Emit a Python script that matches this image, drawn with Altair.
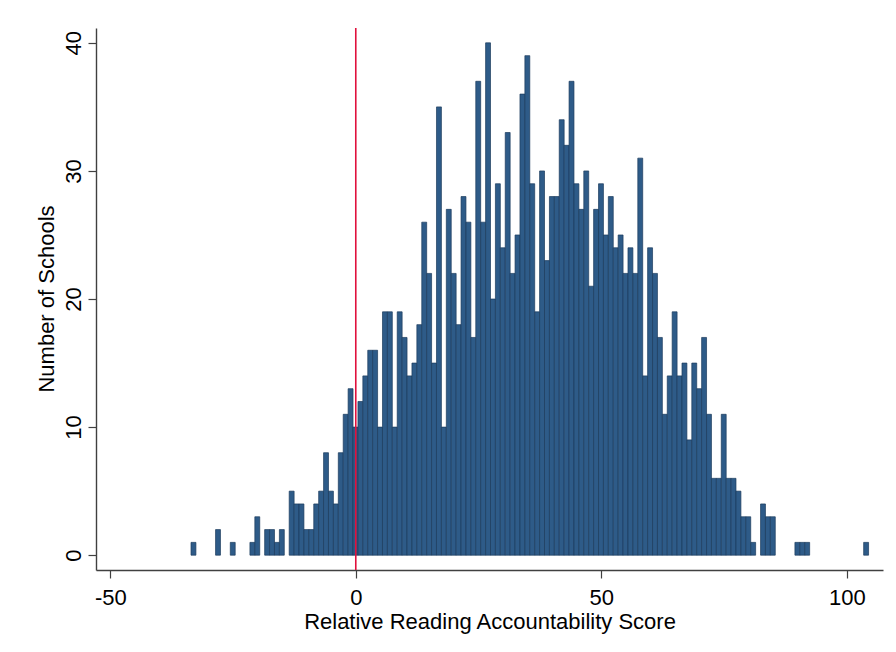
import altair as alt
import pandas as pd

# ---- data ----
bin_start = -33.56   # left edge of first bin
bin_width = 1.0
counts = [
    1, 0, 0, 0, 0, 2, 0, 0, 1, 0,
    0, 0, 1, 3, 0, 2, 2, 1, 2, 0,
    5, 4, 4, 2, 2, 4, 5, 8, 5, 4,
    8, 11, 13, 10, 12, 14, 16, 16, 10, 19,
    19, 10, 19, 17, 14, 15, 18, 26, 22, 15,
    35, 10, 27, 22, 18, 28, 26, 17, 37, 26,
    40, 20, 29, 24, 33, 22, 25, 36, 39, 29,
    19, 30, 23, 28, 28, 34, 32, 37, 29, 27,
    30, 21, 27, 29, 25, 28, 24, 25, 22, 24,
    22, 31, 14, 24, 22, 17, 11, 14, 19, 14,
    15, 9, 15, 13, 17, 11, 6, 6, 11, 6,
    6, 5, 3, 3, 1, 0, 4, 3, 3, 0,
    0, 0, 0, 1, 1, 1, 0, 0, 0, 0,
    0, 0, 0, 0, 0, 0, 0, 1,
]
ref_value = [0]
x_ticks = [-50, 0, 50, 100]
y_ticks = [0, 10, 20, 30, 40]
x_title = "Relative Reading Accountability Score"
y_title = "Number of Schools"

df = pd.DataFrame({
    "start": [bin_start + i * bin_width for i in range(len(counts))],
    "count": counts,
})
df["end"] = df["start"] + bin_width
df["base"] = 0
df = df[df["count"] > 0]

ref_df = pd.DataFrame({"ref": ref_value})

FONT = "Liberation Sans"
AXIS_COL = "#404040"

x_scale = alt.Scale(domain=[-52.91, 107.38], nice=False, zero=False)
y_scale = alt.Scale(domain=[-1.156, 41.16], nice=False, zero=False)

x_axis = alt.Axis(
    values=x_ticks, title=x_title, grid=False,
    tickSize=8, tickColor=AXIS_COL, tickWidth=1.2,
    domainColor=AXIS_COL, domainWidth=1.4,
    labelFont=FONT, labelFontSize=22, labelColor="black",
    labelBaseline="alphabetic", labelPadding=26,
    labelFlush=False, labelOverlap=False,
    labelExpr="'' + datum.value",
    titleFont=FONT, titleFontSize=22, titleColor="black",
    titleFontWeight="normal", titleBaseline="alphabetic", titleY=58,
)
y_axis = alt.Axis(
    values=y_ticks, title=y_title, grid=False,
    tickSize=8, tickColor=AXIS_COL, tickWidth=1.2,
    domainColor=AXIS_COL, domainWidth=1.4,
    labelFont=FONT, labelFontSize=22, labelColor="black",
    labelAngle=270, labelAlign="center", labelBaseline="alphabetic",
    labelPadding=8, labelOverlap=False,
    titleFont=FONT, titleFontSize=22, titleColor="black",
    titleFontWeight="normal", titleAngle=270, titleAlign="center",
    titleBaseline="alphabetic", titleX=-42.7, titleY=270.5,
)

bars = alt.Chart(df).mark_rect(
    fill="#2e5b88", stroke="#1b3b5c", strokeWidth=0.7
).encode(
    x=alt.X("start:Q", scale=x_scale, axis=x_axis, title=x_title),
    x2="end:Q",
    y=alt.Y("count:Q", scale=y_scale, axis=y_axis, title=y_title),
    y2="base:Q",
)

rule = alt.Chart(ref_df).mark_rule(color="#e0103c", strokeWidth=1.6).encode(
    x=alt.X("ref:Q", scale=x_scale, title=x_title),
)

chart = alt.layer(bars, rule).properties(
    width=787, height=542,
    padding={"left": 88, "top": 20, "right": 5, "bottom": 78},
    autosize=alt.AutoSizeParams(type="none"),
    background="white",
).configure_view(stroke=None)

chart.save("out.html", embed_options={"renderer": "svg", "actions": False})
